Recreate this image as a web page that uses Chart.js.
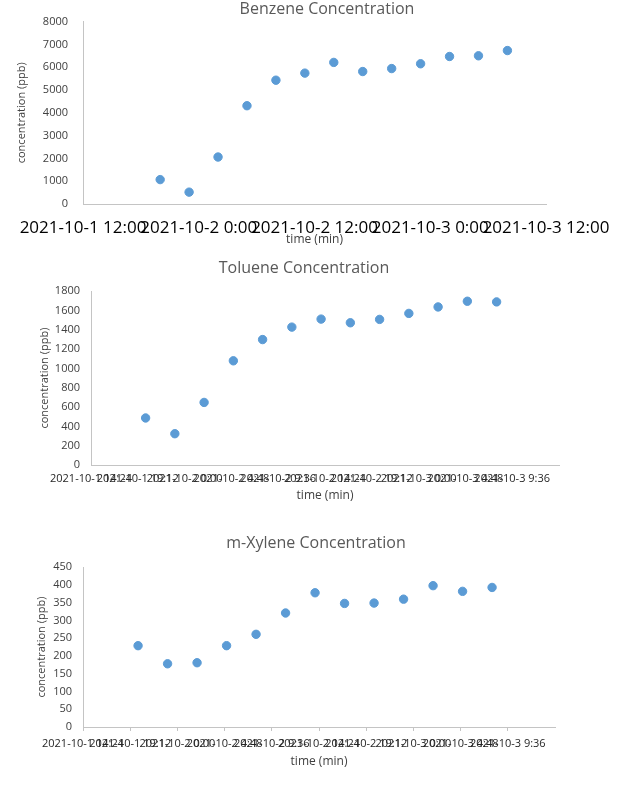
<!doctype html>
<html>

<head>
	<title>Concentration</title>
	<script src="https://cdn.jsdelivr.net/npm/chart.js@4.4.0/dist/chart.umd.min.js"></script>
	<style>
	body {
		margin: 0;
		background: #fff;
		width: 634px;
		height: 789px;
		overflow: hidden;
		position: relative;
	}
	canvas {
		position: absolute;
		left: 0;
	}
	</style>
</head>

<body>
	<canvas id="benzene-chart"></canvas>
	<canvas id="toluene-chart"></canvas>
	<canvas id="xylene-chart"></canvas>
<script>

// sampling times, same for every compound
var sampleTimes = ['2021-10-1 20:00', '2021-10-1 23:00', '2021-10-2 2:00', '2021-10-2 5:00',
  '2021-10-2 8:00', '2021-10-2 11:00', '2021-10-2 14:00', '2021-10-2 17:00', '2021-10-2 20:00',
  '2021-10-2 23:00', '2021-10-3 2:00', '2021-10-3 5:00', '2021-10-3 8:00'];

var benzene = [1070, 520, 2060, 4310, 5430, 5740, 6210, 5810, 5940, 6150, 6470, 6500, 6730];
var toluene = [487, 324, 648, 1079, 1299, 1428, 1511, 1473, 1508, 1570, 1637, 1696, 1689];
var xylene = [229, 178, 181, 229, 261, 321, 378, 348, 349, 360, 398, 382, 393];

var benzeneRange = ['2021-10-1 12:00', '2021-10-3 12:00'];
var benzeneTicks = ['2021-10-1 12:00', '2021-10-2 0:00', '2021-10-2 12:00', '2021-10-3 0:00', '2021-10-3 12:00'];

var tolueneRange = ['2021-10-1 14:24', '2021-10-3 14:24'];
var tolueneTicks = ['2021-10-1 14:24', '2021-10-1 19:12', '2021-10-2 0:00', '2021-10-2 4:48',
  '2021-10-2 9:36', '2021-10-2 14:24', '2021-10-2 19:12', '2021-10-3 0:00', '2021-10-3 4:48',
  '2021-10-3 9:36'];

var xyleneRange = ['2021-10-1 14:24', '2021-10-3 14:24'];
var xyleneTicks = ['2021-10-1 14:24', '2021-10-1 19:12', '2021-10-2 0:00', '2021-10-2 4:48',
  '2021-10-2 9:36', '2021-10-2 14:24', '2021-10-2 19:12', '2021-10-3 0:00', '2021-10-3 4:48',
  '2021-10-3 9:36'];

// hours since 2021-10-1 0:00
function toHours(s) {
  var parts = s.split(' ');
  var day = parseInt(parts[0].split('-')[2]);
  var hm = parts[1].split(':');
  return (day - 1) * 24 + parseInt(hm[0]) + parseInt(hm[1]) / 60;
}

var FONT = 'Open Sans';
var AXIS = '#c4c4c4';

function makeChart(id, o) {
  var canvas = document.getElementById(id);
  canvas.width = o.w;
  canvas.height = o.h;
  canvas.style.top = o.top + 'px';

  var points = sampleTimes.map(function (t, i) {
    return { x: toHours(t), y: o.values[i] };
  });

  return new Chart(canvas, {
    type: 'scatter',
    data: {
      datasets: [{
        data: points,
        backgroundColor: '#5b9bd5',
        borderColor: '#5b9bd5',
        borderWidth: 1,
        pointRadius: 4.2,
        pointHoverRadius: 4.2
      }]
    },
    options: {
      responsive: false,
      animation: false,
      layout: { padding: 0 },
      plugins: {
        legend: { display: false },
        tooltip: { enabled: false },
        title: {
          display: true,
          text: o.title,
          color: '#595959',
          font: { family: FONT, size: 16, weight: 'normal' },
          padding: { top: o.titleTop, bottom: o.titleGap }
        }
      },
      scales: {
        x: {
          type: 'linear',
          min: toHours(o.range[0]),
          max: toHours(o.range[1]),
          afterBuildTicks: function (scale) {
            scale.ticks = o.ticks.map(function (l) { return { value: toHours(l) }; });
          },
          afterFit: function (scale) { scale.height = o.h - o.plotBottom; },
          grid: { display: o.tickMarks, drawOnChartArea: false, drawTicks: o.tickMarks, tickLength: 4, color: AXIS },
          border: { display: true, color: AXIS, dash: [1, 1] },
          ticks: {
            autoSkip: false,
            maxRotation: 0,
            minRotation: 0,
            padding: o.xPad,
            color: o.xColor,
            font: { family: FONT, size: o.xSize },
            callback: function (v, i) { return o.ticks[i]; }
          },
          title: {
            display: true,
            text: 'time (min)',
            color: '#404040',
            font: { family: FONT, size: 12 },
            padding: { top: 0, bottom: o.xTitlePad }
          }
        },
        y: {
          min: 0,
          max: o.yMax,
          afterFit: function (scale) { scale.width = o.plotLeft; },
          grid: { display: false, drawTicks: false },
          border: { display: true, color: AXIS, dash: [1, 1] },
          ticks: {
            stepSize: o.yStep,
            padding: o.yPad,
            color: '#404040',
            font: { family: FONT, size: 11 },
            callback: function (v) { return String(v); }
          },
          title: {
            display: true,
            text: 'concentration (ppb)',
            color: '#404040',
            font: { family: FONT, size: 11 },
            padding: { top: o.yTitlePad, bottom: 0 }
          }
        },
        // empty axis that keeps the blank margin right of the plot
        gap: {
          type: 'linear',
          position: 'right',
          afterFit: function (scale) { scale.width = o.w - o.plotRight; },
          grid: { display: false, drawTicks: false },
          border: { display: false },
          ticks: { display: false }
        }
      }
    }
  });
}

makeChart('benzene-chart', {
  title: 'Benzene Concentration', values: benzene, range: benzeneRange, ticks: benzeneTicks,
  top: 0, w: 654, h: 250, plotLeft: 83, plotRight: 546, plotBottom: 204,
  titleTop: -3, titleGap: 3, yMax: 8000, yStep: 1000, yPad: 15, yTitlePad: 15,
  xPad: 14, xSize: 17, xColor: '#000', xTitlePad: 3, tickMarks: false
});

makeChart('toluene-chart', {
  title: 'Toluene Concentration', values: toluene, range: tolueneRange, ticks: tolueneTicks,
  top: 250, w: 608, h: 260, plotLeft: 91, plotRight: 559, plotBottom: 215,
  titleTop: 9, titleGap: 13, yMax: 1800, yStep: 200, yPad: 11, yTitlePad: 38,
  xPad: 7, xSize: 11, xColor: '#262626', xTitlePad: 7, tickMarks: false
});

makeChart('xylene-chart', {
  title: 'm-Xylene Concentration', values: xylene, range: xyleneRange, ticks: xyleneTicks,
  top: 520, w: 632, h: 269, plotLeft: 83, plotRight: 555, plotBottom: 207,
  titleTop: 14, titleGap: 14, yMax: 450, yStep: 50, yPad: 11, yTitlePad: 35,
  xPad: 6, xSize: 11, xColor: '#262626', xTitlePad: 20, tickMarks: true
});

</script>
</body>

</html>
